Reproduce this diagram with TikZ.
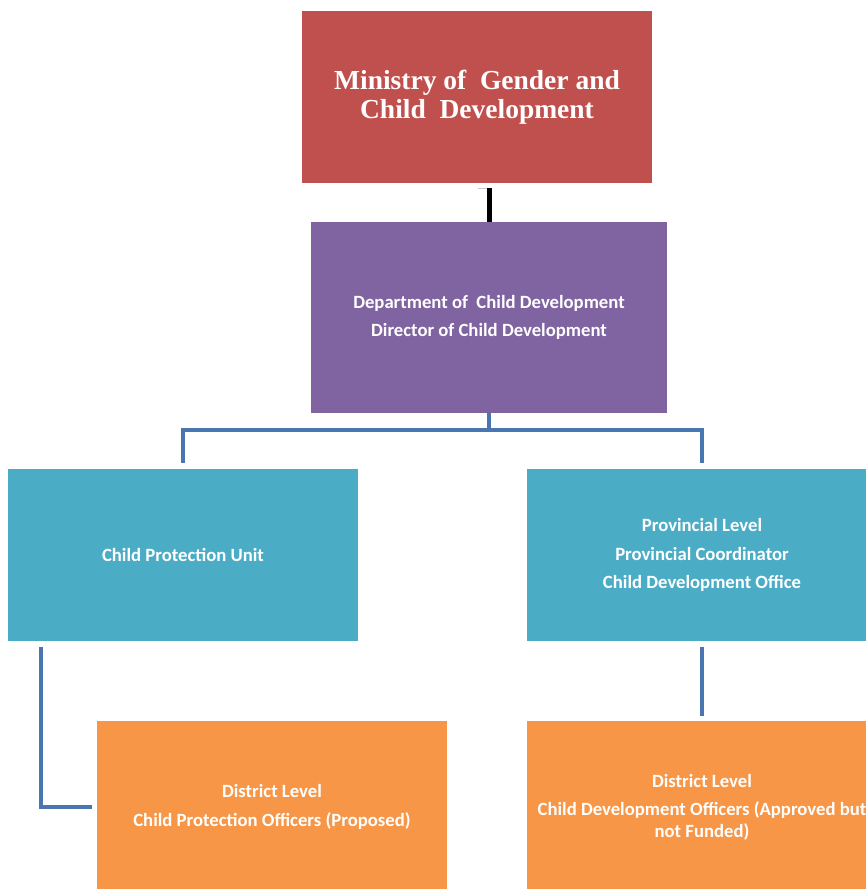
\documentclass[tikz,border=0pt]{standalone}
\usepackage{fontspec}
\setmainfont{Carlito}
\newfontfamily\titlefont{Liberation Serif}
\usepackage{tikz}

\definecolor{boxred}{HTML}{C0504D}
\definecolor{boxpurple}{HTML}{8064A2}
\definecolor{boxteal}{HTML}{4BACC6}
\definecolor{boxorange}{HTML}{F79646}
\definecolor{linkblue}{HTML}{4A76B0}

\tikzset{
  unit/.style={draw=none,text=white,minimum width=350pt,minimum height=172pt,
    inner sep=0pt,align=center,font=\bfseries\fontsize{18.7}{21.5}\selectfont},
  link/.style={draw=linkblue,line width=4.5pt},
}

\begin{document}
\begin{tikzpicture}[x=1pt,y=-1pt]
          \useasboundingbox (0,0) rectangle (866,889);
          \node[unit,fill=boxred,font=\titlefont\bfseries\fontsize{27.5}{29}\selectfont] (ministry) at (477,97) {Ministry of\ \ Gender and\\Child\ \ Development};
          \node[unit,fill=boxpurple,minimum width=356pt,minimum height=191pt] (dept) at (489,317.5) {Department of\ \ Child Development\\[7pt]Director of Child Development};
          \node[unit,fill=boxteal] (cpu) at (183,555) {Child Protection Unit};
          \node[unit,fill=boxteal] (prov) at (702,555) {Provincial Level\\[7pt]Provincial Coordinator\\[7pt]Child Development Office};
          \node[unit,fill=boxorange] (cpo) at (272,807) {District Level\\[7pt]Child Protection Officers (Proposed)};
          \node[unit,fill=boxorange] (cdo) at (702,807) {District Level\\[7pt]Child Development\ Officers (Approved but\\not Funded)};
          \coordinate (split) at (489,430);
          \coordinate (hook) at ([xshift=-11pt,yshift=-5pt]ministry.south -| dept.north);
          \draw[black!20,line width=1pt] (hook) -- ++(11,0);
          \draw[line width=5pt] ([yshift=-5pt]ministry.south -| dept.north) -- (dept.north);
          \draw[link] (dept.south) -- (split);
          \draw[link] (split) -| ([yshift=6pt]cpu.north);
          \draw[link] (split) -| ([yshift=6pt]prov.north);
          \draw[link] ([xshift=33pt,yshift=-6pt]cpu.south west) |- ([xshift=-5pt]cpo.west);
          \draw[link] ([yshift=-6pt]prov.south) -- ([yshift=5pt]cdo.north);
        \end{tikzpicture}
\end{document}
